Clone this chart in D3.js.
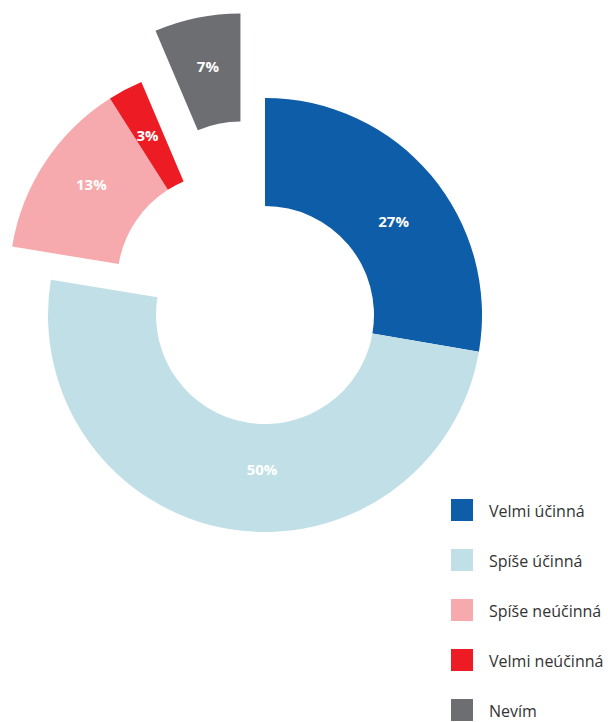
<!DOCTYPE html>
<html>
<head>
<meta charset="utf-8">
<script src="https://cdn.jsdelivr.net/npm/d3@7"></script>
<style>
  html, body { margin: 0; padding: 0; background: #ffffff; }
  svg { display: block; }
</style>
</head>
<body>
<svg id="chart" width="608" height="722"></svg>
<script>
// ---- data ----
const categories = ["Velmi účinná", "Spíše účinná", "Spíše neúčinná", "Velmi neúčinná", "Nevím"];
const shares = [27.7, 49.9, 13.4, 2.6, 6.4];          // slice sizes
const percentLabels = ["27%", "50%", "13%", "3%", "7%"]; // printed labels
const colors = ["#0E5DA8", "#C1DFE7", "#F6AAAD", "#ED1C24", "#6D6E71"];

// ---- styling / layout ----
const W = 608, H = 722;
const cx = 265, cy = 315;
const outerR = 217, innerR = 109;
// exploded slices: distance and direction (degrees clockwise from top)
const explode = {
  "Spíše neúčinná": { d: 51, a: 310.6 },
  "Velmi neúčinná": { d: 51, a: 310.6 },
  "Nevím": { d: 88, a: 343.8 }
};
const labelShift = {
  "Velmi účinná": [4, 11],
  "Spíše účinná": [24, -7],
  "Spíše neúčinná": [1, -8],
  "Velmi neúčinná": [-3, -3],
  "Nevím": [0, -5]
};

const svg = d3.select("#chart");
const g = svg.append("g").attr("transform", `translate(${cx},${cy})`);

const rows = categories.map((c, i) => ({ cat: c, value: shares[i], label: percentLabels[i], color: colors[i] }));

const pie = d3.pie().sort(null).value(d => d.value).startAngle(0).endAngle(2 * Math.PI);
const arc = d3.arc().innerRadius(innerR).outerRadius(outerR);
const arcs = pie(rows);

function offset(d) {
  const e = explode[d.data.cat];
  if (!e) return [0, 0];
  const a = e.a * Math.PI / 180;
  return [e.d * Math.sin(a), -e.d * Math.cos(a)];
}

const slice = g.selectAll("g.slice").data(arcs).enter().append("g")
  .attr("class", "slice")
  .attr("transform", d => { const o = offset(d); return `translate(${o[0]},${o[1]})`; });

slice.append("path")
  .attr("d", arc)
  .attr("fill", d => d.data.color);

slice.append("text")
  .attr("transform", d => {
    const c = arc.centroid(d);
    const s = labelShift[d.data.cat] || [0, 0];
    return `translate(${c[0] + s[0]},${c[1] + s[1]})`;
  })
  .attr("text-anchor", "middle")
  .attr("dominant-baseline", "central")
  .attr("font-family", "'Open Sans', sans-serif")
  .attr("font-weight", 700)
  .attr("font-size", 15)
  .attr("fill", "#ffffff")
  .text(d => d.data.label);

// ---- legend ----
const legendY = d3.scalePoint().domain(categories).range([510, 710]);
const legend = svg.append("g");
const item = legend.selectAll("g.item").data(rows).enter().append("g")
  .attr("class", "item")
  .attr("transform", d => `translate(0,${legendY(d.cat)})`);
item.append("rect")
  .attr("x", 451).attr("y", -11)
  .attr("width", 22).attr("height", 22)
  .attr("fill", d => d.color);
item.append("text")
  .attr("x", 489).attr("y", 1)
  .attr("dominant-baseline", "central")
  .attr("font-family", "'Open Sans', sans-serif")
  .attr("font-size", 16)
  .attr("fill", "#333333")
  .text(d => d.cat);
</script>
</body>
</html>
